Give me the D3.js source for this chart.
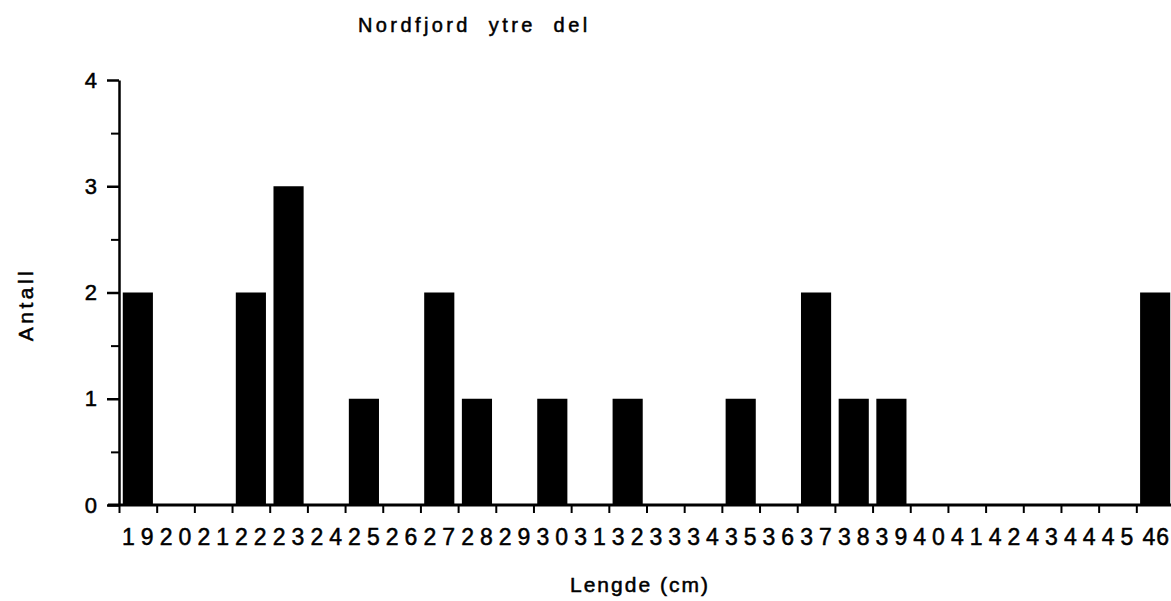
<!DOCTYPE html>
<html>
<head>
<meta charset="utf-8">
<script src="https://cdn.jsdelivr.net/npm/d3@7"></script>
<style>
  body { margin: 0; background: #fff; }
  text { font-family: "Liberation Sans", Arial, Helvetica, sans-serif; fill: #000; stroke: #000; stroke-width: 0.5px; }
  .axis path, .axis line { stroke: #000; }
</style>
</head>
<body>
<div id="chart"></div>
<script>
// lengths (cm) and counts
var lengths = [19, 20, 21, 22, 23, 24, 25, 26, 27, 28, 29, 30, 31, 32,
               33, 34, 35, 36, 37, 38, 39, 40, 41, 42, 43, 44, 45, 46];
var counts  = [2, 0, 0, 2, 3, 0, 1, 0, 2, 1, 0, 1, 0, 1,
               0, 0, 1, 0, 2, 1, 1, 0, 0, 0, 0, 0, 0, 2];
var yTicks = [0, 1, 2, 3, 4];
var yMinorTicks = [0.5, 1.5, 2.5, 3.5];
var title = "Nordfjord  ytre  del";
var xTitle = "Lengde (cm)";
var yTitle = "Antall";

function init() {
    var w = 1171;
    var h = 601;
    var left = 119, right = 1174;   // right end runs past the page, like the scan
    var top = 80, bottom = 505;

    var dataset = lengths.map(function (d, i) { return { len: d, n: counts[i] }; });

    var svg = d3.select("#chart")
        .append("svg")
        .attr("width", w)
        .attr("height", h);

    //band scale for the bars
    var xScale = d3.scaleBand()
        .domain(lengths)
        .range([left, right])
        .paddingInner(0.2)
        .paddingOuter(0.1);

    //linear scale on the band edges, for the tick marks
    var edgeScale = d3.scaleLinear()
        .domain([0, lengths.length])
        .range([left, right]);

    var yScale = d3.scaleLinear()
        .domain([0, 4])
        .range([bottom, top]);

    //bars
    svg.selectAll("rect.bar")
        .data(dataset)
        .enter()
        .append("rect")
        .attr("class", "bar")
        .attr("x", function (d) { return xScale(d.len); })
        .attr("y", function (d) { return yScale(d.n); })
        .attr("width", xScale.bandwidth())
        .attr("height", function (d) { return bottom - yScale(d.n); })
        .attr("fill", "#000");

    //minor y ticks
    svg.append("g")
        .attr("class", "axis")
        .attr("transform", "translate(" + left + ",0)")
        .call(d3.axisLeft(yScale).tickValues(yMinorTicks).tickSize(8).tickFormat(""))
        .call(function (g) { g.select(".domain").remove(); })
        .selectAll("line").attr("stroke-width", 2);

    //y axis
    var yAx = svg.append("g")
        .attr("class", "axis")
        .attr("transform", "translate(" + left + ",0)")
        .call(d3.axisLeft(yScale).tickValues(yTicks).tickFormat(d3.format("d"))
            .tickSize(12).tickPadding(10).tickSizeOuter(0));
    yAx.select(".domain").attr("stroke-width", 2.5);
    yAx.selectAll("line").attr("stroke-width", 2.5);
    yAx.selectAll("text").style("font-size", "22px");

    //x tick marks at the band edges
    var xTickAx = svg.append("g")
        .attr("class", "axis")
        .attr("transform", "translate(0," + bottom + ")")
        .call(d3.axisBottom(edgeScale).tickValues(d3.range(lengths.length)).tickSize(8).tickFormat("").tickSizeOuter(0));
    xTickAx.select(".domain").remove();
    xTickAx.selectAll("line").attr("stroke-width", 2);

    //x axis line, running a little left of the y axis
    svg.append("line")
        .attr("x1", left - 11)
        .attr("x2", w)
        .attr("y1", bottom)
        .attr("y2", bottom)
        .attr("stroke", "#000")
        .attr("stroke-width", 3);

    //x labels, centred in each band
    var ls = 6;
    var xAx = svg.append("g")
        .attr("transform", "translate(0," + bottom + ")")
        .call(d3.axisBottom(xScale).tickSize(0).tickPadding(24));
    xAx.select(".domain").remove();
    xAx.selectAll("text")
        .style("font-size", "23px")
        .style("letter-spacing", ls + "px")
        .attr("dx", (ls / 2) + "px");
    //last label is squeezed back inside the page
    xAx.selectAll(".tick").each(function (d) {
        var t = d3.select(this).select("text");
        var box = this.getBBox();
        var tx = xScale(d) + xScale.bandwidth() / 2;
        if (tx + box.width / 2 > w - 1) {
            t.attr("text-anchor", "end").attr("x", w - 1 - tx).attr("dx", 0)
                .style("letter-spacing", "1px");
        }
    });

    //title
    svg.append("text")
        .attr("x", 358)
        .attr("y", 32)
        .style("font-size", "20px")
        .style("letter-spacing", "3.4px")
        .style("white-space", "pre")
        .text(title);

    //x title
    svg.append("text")
        .attr("x", 570)
        .attr("y", 592)
        .style("font-size", "21px")
        .style("letter-spacing", "2px")
        .text(xTitle);

    //y title
    svg.append("text")
        .attr("transform", "translate(33," + ((top + bottom) / 2 + 12) + ") rotate(-90)")
        .attr("text-anchor", "middle")
        .style("font-size", "21px")
        .style("letter-spacing", "3.5px")
        .text(yTitle);
}

window.onload = init;
</script>
</body>
</html>
